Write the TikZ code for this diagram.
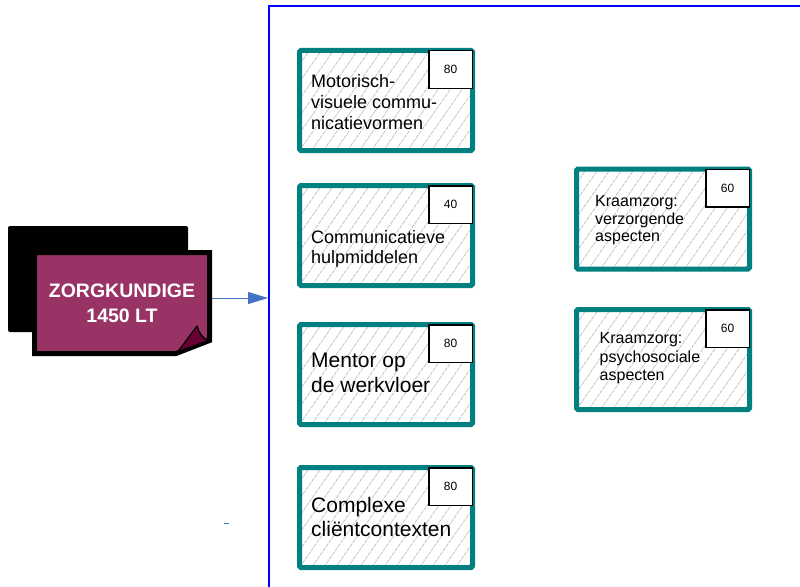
\documentclass[tikz,border=0pt]{standalone}
\usepackage{xcolor}
\usepackage{fontspec}
\setmainfont{Liberation Sans}
\definecolor{zorg-teal}{HTML}{008080}
\definecolor{zorg-purple}{HTML}{993366}
\definecolor{zorg-fold}{HTML}{660033}
\definecolor{zorg-arrow}{HTML}{4472C4}
\definecolor{zorg-frame}{HTML}{0000FF}
\usepackage{tikz}
\usetikzlibrary{arrows.meta}

\tikzset{
  module/.style={draw=zorg-teal, line width=5pt, fill=white, rounded corners=1.5pt,
    minimum width=173pt, minimum height=100pt, inner sep=0pt,
    path picture={\foreach \k in {-8,...,15}
      \draw[black!25, line width=0.7pt, dash pattern=on 4pt off 1pt]
        ([xshift=\k*12pt]path picture bounding box.south west) -- ++(55:140pt);}},
  hours/.style={draw=black, line width=1.5pt, fill=white, anchor=north east,
    minimum width=43.5pt, minimum height=37.5pt, inner sep=0pt,
    font=\fontsize{12}{14}\selectfont},
  modtext/.style={anchor=north west, inner sep=0pt, align=left,
    font=\fontsize{18}{21}\selectfont},
  cardtext/.style={text=white, align=center, inner sep=0pt,
    minimum width=180pt, minimum height=106pt,
    font=\fontsize{19.5}{25}\selectfont\bfseries}
}

\begin{document}
\begin{tikzpicture}[x=1pt, y=-1pt]

  % Page size
  \useasboundingbox (0,0) rectangle (800,586);
  \clip (0,0) rectangle (800,586);

  % Draw the blue frame
  \draw[zorg-frame, line width=2pt] (269,6) rectangle (830,620);
  \coordinate (frame-in) at (268,298);

  % Draw the black back card
  \fill[black, rounded corners=2pt] (8,226) rectangle (188,332);

  % Draw the purple front card with its curled corner
  \filldraw[fill=zorg-purple, draw=black, line width=5pt, line join=miter]
    (34.5,252.5) -- (209.5,252.5) -- (209.5,340.5) -- (176,353.5) -- (34.5,353.5) -- cycle;
  \filldraw[fill=zorg-fold, draw=black, line width=1.2pt, line join=round]
    (178,351.5) -- (197,326) .. controls (199,333) and (203,339) .. (209,340.5) -- cycle;
  \node[cardtext] (card) at (122,303) {ZORGKUNDIGE\\1450 LT};

  % Arrow into the frame
  \draw[zorg-arrow, line width=0.8pt, -{Triangle[length=20pt,width=12pt]}]
    (card.east |- frame-in) -- (frame-in);
  \draw[zorg-arrow, line width=1pt] (224,523) -- (229,523);

  % Left column of modules
  \node[module] (motor) at (386,100.5) {};
  \node[module] (hulp) at (386,235.5) {};
  \node[module] (mentor) at (386,374.5) {};
  \node[module] (complex) at (386,517.5) {};

  % Right column of modules
  \node[module] (verzorg) at (663,219) {};
  \node[module] (psycho) at (663,359.5) {};

  % Study hours
  \node[hours] (motor-h) at ([shift={(-2,2)}]motor.north east) {80};
  \node[hours] (hulp-h) at ([shift={(-2,2)}]hulp.north east) {40};
  \node[hours] (mentor-h) at ([shift={(-2,2)}]mentor.north east) {80};
  \node[hours] (complex-h) at ([shift={(-2,2)}]complex.north east) {80};
  \node[hours] (verzorg-h) at ([shift={(-2,2)}]verzorg.north east) {60};
  \node[hours] (psycho-h) at ([shift={(-2,2)}]psycho.north east) {60};

  % Module names
  \node[modtext] (motor-t) at (311,74) {Motorisch-\\visuele commu-\\nicatievormen};
  \node[modtext, font=\fontsize{18}{20}\selectfont] (hulp-t) at (311,230.7) {Communicatieve\\hulpmiddelen};
  \node[modtext, font=\fontsize{21}{25}\selectfont] (mentor-t) at (311,353) {Mentor op\\de werkvloer};
  \node[modtext, font=\fontsize{21}{24}\selectfont] (complex-t) at (311,496.7) {Complexe\\cliëntcontexten};
  \node[modtext, font=\fontsize{16}{17.5}\selectfont] (verzorg-t) at (595,195.5) {Kraamzorg:\\verzorgende\\aspecten};
  \node[modtext, font=\fontsize{16}{18.5}\selectfont] (psycho-t) at (599.5,332.5) {Kraamzorg:\\psychosociale\\aspecten};

\end{tikzpicture}
\end{document}
